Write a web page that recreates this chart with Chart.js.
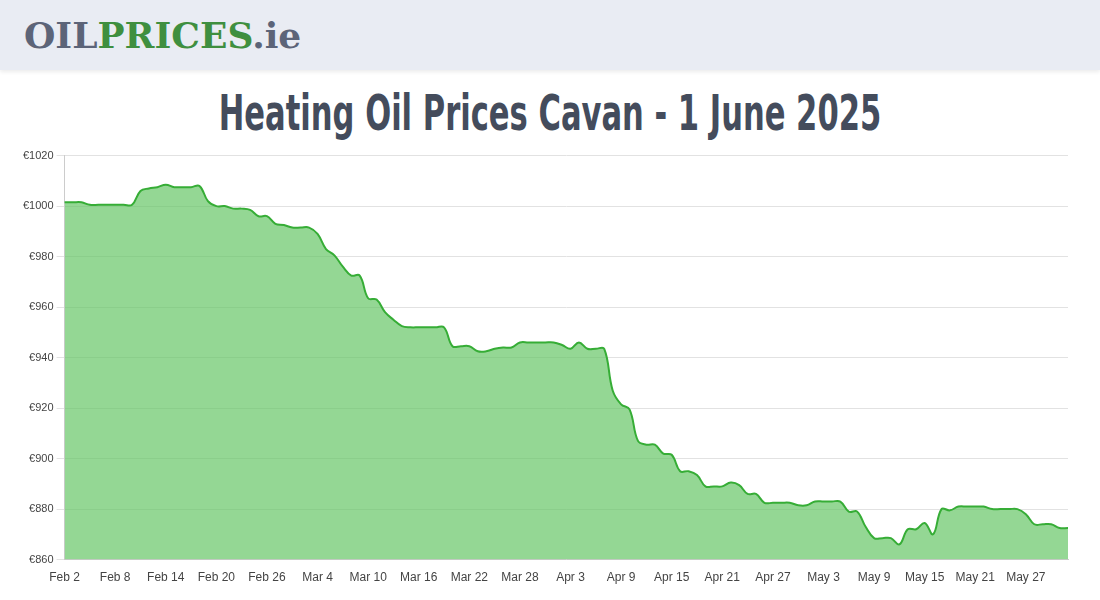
<!DOCTYPE html>
<html><head><meta charset="utf-8">
<script src="https://cdn.jsdelivr.net/npm/chart.js@4"></script>
<style>
body{margin:0;width:1100px;height:600px;background:#fff;font-family:Arial,"Liberation Sans",sans-serif;overflow:hidden}
#hdr{position:absolute;left:0;top:0;width:1100px;height:70px;background:#e9ecf3;box-shadow:0 2px 4px rgba(0,0,0,0.08)}
#logo{position:absolute;left:24px;top:14px;font-family:"DejaVu Serif",serif;font-weight:bold;font-size:36px;letter-spacing:0px}
#title{position:absolute;left:0;top:84px;width:1100px;text-align:center;font-family:"Liberation Sans Narrow","DejaVu Sans Condensed",sans-serif;font-weight:bold;font-size:50px;color:#444c5c;transform:scaleX(0.68);transform-origin:550px 0}
#wrap{position:absolute;left:0;top:146px;width:1100px;height:442px}
</style></head><body>
<div id="hdr"><div id="logo"><span style="color:#5c6478">OIL</span><span style="color:#3f8f3f">PRICES</span><span style="color:#5c6478">.ie</span></div></div>
<div id="title">Heating Oil Prices Cavan - 1 June 2025</div>
<div id="wrap"><canvas id="c"></canvas></div>
<script>
const months=["Jan","Feb","Mar","Apr","May","Jun"];
const prices=[1001.5,1001.5,1001.5,1000.5,1000.5,1000.5,1000.5,1000.5,1000.5,1006,
1007,1007.5,1008.5,1007.5,1007.5,1007.5,1008,1002,1000,1000,
999,999,998.5,996,996,993,992.5,991.5,991.5,991.5,
989,983,980.5,976,972.5,972.5,963.5,963,958,955,
952.5,952,952,952,952,952,944.5,944.5,944.5,942.5,
942.5,943.5,944,944,946,946,946,946,946,945,
943.5,946,943.5,943.5,943.5,927,921.5,919.5,907,905.5,
905.5,902,901.5,895,895,893.5,889,889,889,890.5,
889.5,886,886,882.5,882.5,882.5,882.5,881.5,881.5,883,
883,883,883,879,879,873,868.5,868.5,868.5,866,
872,872,874.5,870,880,879.5,881,881,881,881,
880,880,880,880,878,874,874,874,872.5,872.5];
const labels=[];
for(let i=0;i<prices.length;i++){const d=new Date(Date.UTC(2025,1,2+i));labels.push(months[d.getUTCMonth()]+" "+d.getUTCDate());}
new Chart(document.getElementById('c'),{type:'line',
data:{labels:labels,datasets:[{data:prices,borderColor:'#36ad36',backgroundColor:'rgba(95,195,95,0.67)',fill:'start',borderWidth:2,pointRadius:0,tension:0.4}]},
options:{responsive:true,maintainAspectRatio:false,animation:false,
layout:{padding:{left:20,right:32,top:4,bottom:0}},
plugins:{legend:{display:false},tooltip:{enabled:false}},
scales:{
x:{grid:{display:false},border:{color:'#ccc'},ticks:{autoSkip:false,maxRotation:0,color:'#444',font:{size:12},callback:function(v,i){return i%6===0?labels[i]:null;}}},
y:{min:860,max:1020,border:{color:'#ccc'},grid:{color:'#e2e2e2'},ticks:{stepSize:20,color:'#444',font:{size:11},callback:v=>'€'+v}}
}}});
</script></body></html>
